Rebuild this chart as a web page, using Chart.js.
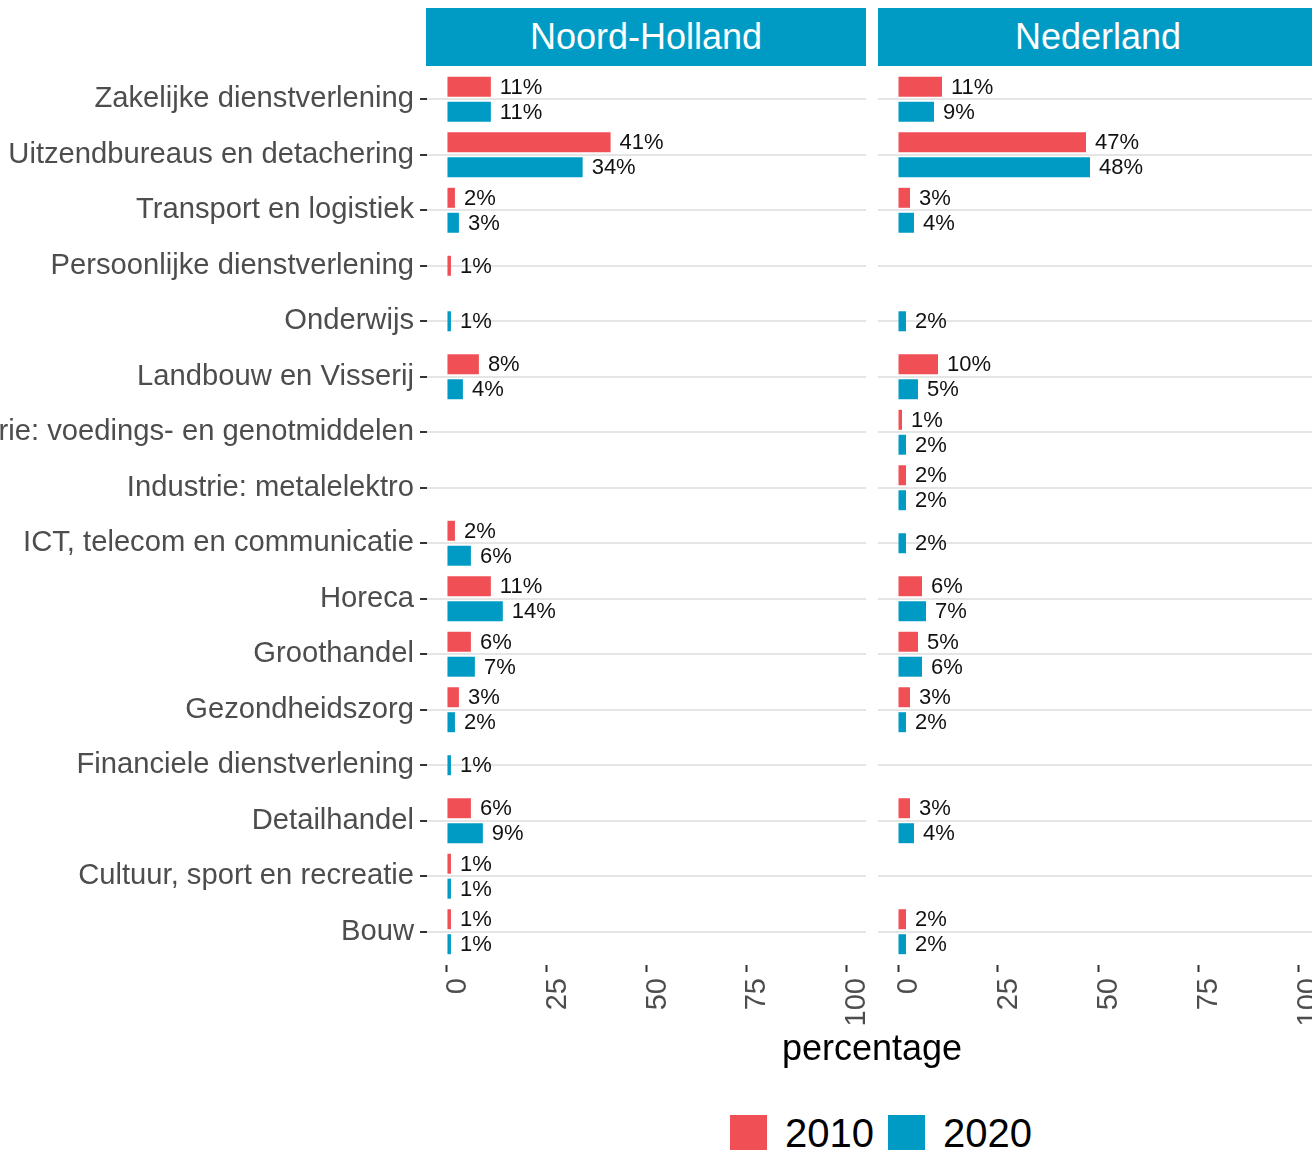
<!DOCTYPE html>
<html>
<head>
<meta charset="utf-8">
<script src="https://cdn.jsdelivr.net/npm/chart.js@4.4.1/dist/chart.umd.min.js"></script>
<style>
body { margin: 0; width: 1312px; height: 1150px; overflow: hidden; background: #fff; position: relative; font-family: "Liberation Sans", Arial, sans-serif; }
.strip { position: absolute; top: 8px; height: 58px; width: 440px; background: #009BC5; color: #fff; font-size: 36px; line-height: 58px; text-align: center; }
canvas { position: absolute; top: 0; }
.title { position: absolute; left: 0; width: 1744px; text-align: center; font-size: 36px; top: 1028px; line-height: 40px; color: #000; }
.key { position: absolute; top: 1115px; width: 37px; height: 37px; }
.keytxt { position: absolute; top: 1113px; font-size: 40px; line-height: 40px; color: #000; }
</style>
</head>
<body>
<div class="strip" style="left:426px">Noord-Holland</div>
<div class="strip" style="left:878px">Nederland</div>
<canvas id="nhChart" width="866" height="1040" style="left:0"></canvas>
<canvas id="nlChart" width="440" height="1040" style="left:878px"></canvas>
<div class="title">percentage</div>
<div class="key" style="left:730px;background:#F04F56"></div>
<div class="keytxt" style="left:785px">2010</div>
<div class="key" style="left:888px;background:#009BC5"></div>
<div class="keytxt" style="left:943px">2020</div>

<script>
const categories = [
    'Zakelijke dienstverlening',
    'Uitzendbureaus en detachering',
    'Transport en logistiek',
    'Persoonlijke dienstverlening',
    'Onderwijs',
    'Landbouw en Visserij',
    'Industrie: voedings- en genotmiddelen',
    'Industrie: metalelektro',
    'ICT, telecom en communicatie',
    'Horeca',
    'Groothandel',
    'Gezondheidszorg',
    'Financiele dienstverlening',
    'Detailhandel',
    'Cultuur, sport en recreatie',
    'Bouw'
];

const nh2010 = [11, 41, 2, 1, null, 8, null, null, 2, 11, 6, 3, null, 6, 1, 1];
const nh2020 = [11, 34, 3, null, 1, 4, null, null, 6, 14, 7, 2, 1, 9, 1, 1];
const nl2010 = [11, 47, 3, null, null, 10, 1, 2, null, 6, 5, 3, null, 3, null, 2];
const nl2020 = [9, 48, 4, null, 2, 5, 2, 2, 2, 7, 6, 2, null, 4, null, 2];

const xTicks = [0, 25, 50, 75, 100];

const red = '#F04F56';
const blue = '#009BC5';
const fontFam = '"Liberation Sans", Arial, sans-serif';

const valueLabels = {
    id: 'valueLabels',
    afterDatasetsDraw(chart) {
        const ctx = chart.ctx;
        ctx.save();
        ctx.font = '22px ' + fontFam;
        ctx.fillStyle = '#111';
        ctx.textBaseline = 'middle';
        ctx.textAlign = 'left';
        chart.data.datasets.forEach((ds, i) => {
            chart.getDatasetMeta(i).data.forEach((bar, j) => {
                const v = ds.data[j];
                if (v == null) return;
                ctx.fillText(v + '%', bar.x + 9, bar.y + 1);
            });
        });
        ctx.restore();
    }
};

function makeChart(id, d2010, d2020, showLabels) {
    return new Chart(document.getElementById(id), {
        type: 'bar',
        data: {
            labels: categories,
            datasets: [{
                label: '2010',
                data: d2010,
                backgroundColor: red
            }, {
                label: '2020',
                data: d2020,
                backgroundColor: blue
            }]
        },
        options: {
            indexAxis: 'y',
            responsive: false,
            animation: false,
            devicePixelRatio: 1,
            skipNull: true,
            barPercentage: 0.8,
            categoryPercentage: 0.9,
            maxBarThickness: 20,
            layout: { padding: { top: 66, left: 0, right: 0, bottom: 0 } },
            plugins: {
                legend: { display: false },
                tooltip: { enabled: false }
            },
            scales: {
                x: {
                    min: -5,
                    max: 105,
                    afterBuildTicks: s => { s.ticks = xTicks.map(v => ({ value: v })); },
                    afterFit: s => {
                        s.height = 75;
                        s.paddingLeft = 0;
                        s.paddingRight = 0;
                    },
                    grid: { drawOnChartArea: false, tickLength: 7, tickColor: '#333', tickWidth: 2 },
                    border: { display: false },
                    ticks: {
                        minRotation: 90,
                        maxRotation: 90,
                        autoSkip: false,
                        labelOffset: 11,
                        padding: 6,
                        color: '#4d4d4d',
                        font: { size: 29, family: fontFam }
                    }
                },
                y: {
                    // ggplot style expansion: 0.6 category on each side
                    afterBuildTicks: s => { s._startValue = -0.6; s._valueRange = categories.length + 0.2; },
                    afterFit: s => {
                        s.width = showLabels ? 427 : 0;
                        s.paddingTop = 0;
                        s.paddingBottom = 0;
                    },
                    grid: {
                        offset: false,
                        color: '#e5e5e5',
                        lineWidth: 2,
                        drawTicks: showLabels,
                        tickLength: 7,
                        tickColor: '#333',
                        tickWidth: 2
                    },
                    border: { display: false },
                    ticks: {
                        display: showLabels,
                        autoSkip: false,
                        padding: 6,
                        color: '#4d4d4d',
                        font: { size: 29.2, family: fontFam }
                    }
                }
            }
        },
        plugins: [valueLabels]
    });
}

const nhChart = makeChart('nhChart', nh2010, nh2020, true);
const nlChart = makeChart('nlChart', nl2010, nl2020, false);
</script>
</body>
</html>
